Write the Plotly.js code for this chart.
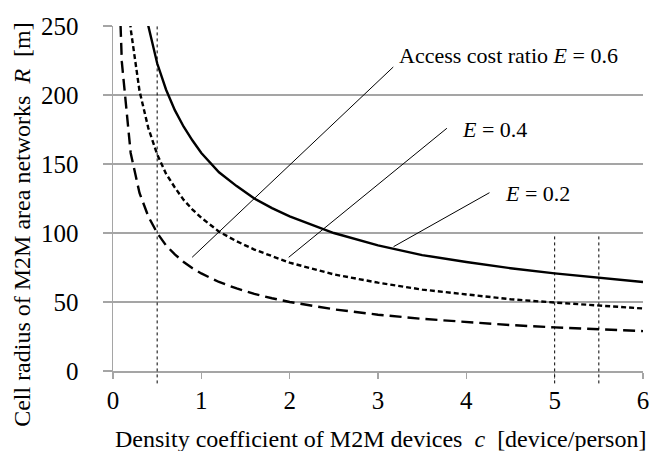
<!DOCTYPE html>
<html>
<head>
<meta charset="utf-8">
<script src="https://cdn.plot.ly/plotly-3.0.1.min.js"></script>
<style>html,body{margin:0;padding:0;background:#fff;}#chart{width:652px;height:451px;}</style>
</head>
<body>
<div id="chart"></div>
<script>
// Density coefficient c [device/person] and cell radius R [m]
const cE06 = [0.3,0.4,0.5,0.6,0.7,0.8,0.9,1.0,1.2,1.4,1.6,1.8,2.0,2.5,3.0,3.5,4.0,4.5,5.0,5.5,6.0];
const rE06 = [288,250,223,204,189,177,167,158,144,134,125,118,112,100,91,84,79,74.5,70.7,67.4,64.5];

const cE04 = [0.1,0.2,0.3,0.4,0.5,0.6,0.7,0.8,0.9,1.0,1.2,1.4,1.6,1.8,2.0,2.5,3.0,3.5,4.0,4.5,5.0,5.5,6.0];
const rE04 = [351,248,203,176,157,143,133,124,117,111,101,94,88,83,78.5,70,64,59,55.5,52,49.6,47.3,45.3];

const cE02 = [0.05,0.1,0.2,0.3,0.4,0.5,0.6,0.7,0.8,0.9,1.0,1.2,1.4,1.6,1.8,2.0,2.5,3.0,3.5,4.0,4.5,5.0,5.5,6.0];
const rE02 = [316,224,158,129,112,100,91,84.5,79,74.5,70.7,64.5,59.8,55.9,52.7,50,44.7,40.8,37.8,35.4,33.3,31.6,30.1,28.9];

// Tick values
const xTicks = [0,1,2,3,4,5,6];
const yTicks = [0,50,100,150,200,250];

// Reference (dotted vertical) lines
const refX = [0.5, 5, 5.5];
const refTop = [250, 98.5, 98.5];
const refBottom = -9;

// Label texts, label anchor positions and leader lines
const labelText = ['Access cost ratio <i>E</i> = 0.6', '<i>E</i> = 0.4', '<i>E</i> = 0.2'];
const labelX = [3.218, 3.931, 4.414];
const labelY = [228.3, 174.7, 128.6];
const leaderX0 = [3.173, 3.78, 4.262];
const leaderY0 = [220.3, 175.9, 129.2];
const leaderX1 = [0.896, 1.989, 3.176];
const leaderY1 = [82.4, 82.4, 90.1];

const xTitle = 'Density coefficient of M2M devices  <i>c</i>  [device/person]';
const yTitle = 'Cell radius of M2M area networks  <i>R</i>  [m]';

const yRange = [0, 250];
const gray = '#a5a5a5';
const FONT = 'Liberation Serif';
const tickFont = {family: FONT, size: 25, color: '#000000'};

const traces = [
  {x: cE06, y: rE06, mode: 'lines', line: {color: '#000', width: 2.4}, hoverinfo: 'skip'},
  {x: cE04, y: rE04, mode: 'lines', line: {color: '#000', width: 2.4, dash: '5px,3px'}, hoverinfo: 'skip'},
  {x: cE02, y: rE02, mode: 'lines', line: {color: '#000', width: 2.4, dash: '12px,6px'}, hoverinfo: 'skip'}
];
for (let i = 0; i < leaderX0.length; i++) {
  traces.push({x: [leaderX0[i], leaderX1[i]], y: [leaderY0[i], leaderY1[i]], mode: 'lines',
    line: {color: '#000', width: 1}, hoverinfo: 'skip'});
}

const span = yRange[1] - yRange[0];
const shapes = refX.map((x, i) => ({
  type: 'line', xref: 'x', yref: 'paper',
  x0: x, x1: x, y0: (refBottom - yRange[0]) / span, y1: (refTop[i] - yRange[0]) / span,
  line: {color: '#000', width: 1, dash: 'dot'}
}));

const annotations = labelText.map((t, i) => ({
  text: t, x: labelX[i], y: labelY[i], xref: 'x', yref: 'y',
  xanchor: 'left', yanchor: 'middle', showarrow: false,
  font: {family: FONT, size: 22, color: '#000'}
}));
annotations.push({text: xTitle, xref: 'paper', yref: 'paper', x: 0.505, y: -0.197,
  xanchor: 'center', yanchor: 'middle', showarrow: false, font: {family: FONT, size: 24, color: '#000'}});
annotations.push({text: yTitle, xref: 'paper', yref: 'paper', x: -0.172, y: 0.426, textangle: -90,
  xanchor: 'center', yanchor: 'middle', showarrow: false, font: {family: FONT, size: 24, color: '#000'}});

const layout = {
  width: 652, height: 451,
  margin: {l: 113, r: 9, t: 26, b: 80},
  paper_bgcolor: '#fff', plot_bgcolor: '#fff',
  showlegend: false,
  font: {family: FONT, size: 24, color: '#000'},
  xaxis: {range: [0, 6], tickmode: 'array', tickvals: xTicks, ticktext: xTicks.map(String), showgrid: false, zeroline: false,
    showline: true, linecolor: gray, linewidth: 1.5, ticks: 'outside', ticklen: 6, tickwidth: 1.5, tickcolor: gray,
    tickfont: tickFont, fixedrange: true},
  yaxis: {range: yRange, tickmode: 'array', tickvals: yTicks, ticktext: yTicks.map(String), showgrid: true, gridcolor: gray, gridwidth: 1.5,
    zeroline: false, showline: true, linecolor: gray, linewidth: 1.5, ticks: 'outside', ticklen: 9, tickwidth: 1.5,
    tickcolor: gray, ticklabelstandoff: 19, tickfont: tickFont, fixedrange: true},
  shapes: shapes,
  annotations: annotations
};

Plotly.newPlot('chart', traces, layout, {staticPlot: true, displayModeBar: false});
</script>
</body>
</html>
